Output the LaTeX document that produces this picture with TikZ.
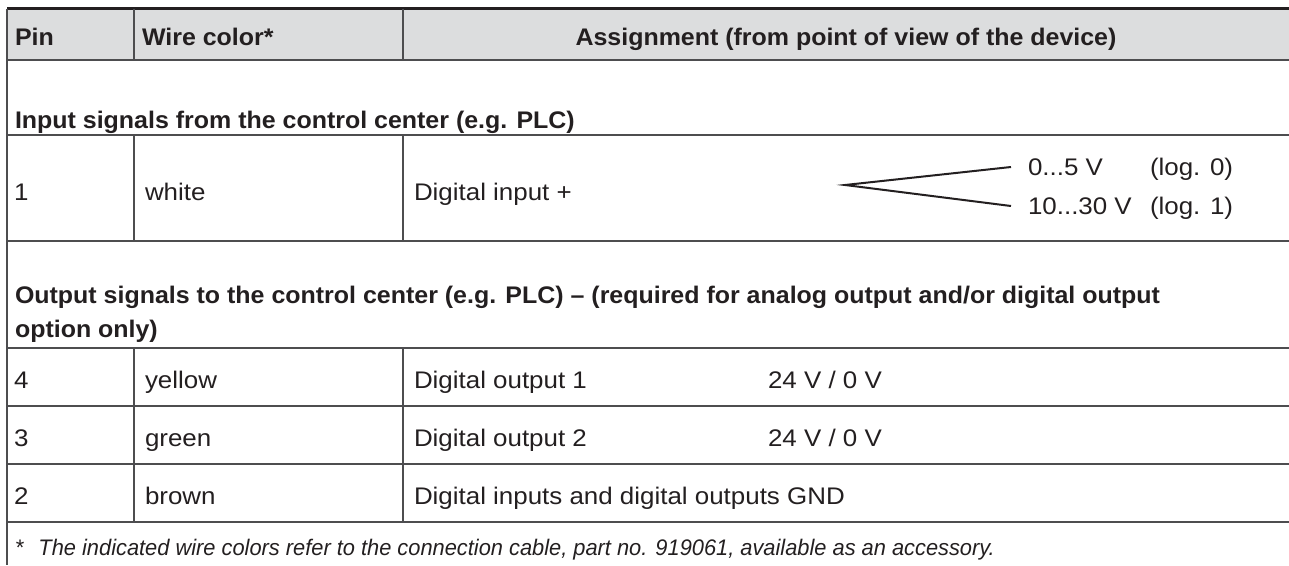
\documentclass[tikz,border=0pt]{standalone}
\usepackage{fontspec}
\setmainfont{Liberation Sans}[UprightFeatures={FakeStretch=1.08},BoldFeatures={FakeStretch=1.04}]
\newfontfamily\fnfont{Liberation Sans}[FakeStretch=0.97]
\definecolor{txt}{HTML}{231F20}
\definecolor{hdr}{HTML}{DCDDDE}
\definecolor{rule}{HTML}{4D4D4F}
\begin{document}
\begin{tikzpicture}[x=1pt,y=-1pt,
  every node/.style={inner sep=0pt,outer sep=0pt,text=txt,font=\fontsize{24}{28}\selectfont},
  cell/.style={anchor=base west},
  bcell/.style={anchor=base west,font=\fontsize{24}{28}\selectfont\bfseries},
  gridline/.style={draw=rule,line width=1.6pt},
  fork/.style={draw=txt,line width=2pt}]
\useasboundingbox (0,0) rectangle (1289,565);
% header background
\fill[hdr] (7,8.6) rectangle (1289,60);
% horizontal rules
\draw[draw=txt,line width=2.6pt] (7,8.6) -- (1289,8.6);
\draw[gridline] (7,60) -- (1289,60);
\draw[gridline] (7,135) -- (1289,135);
\draw[gridline] (7,241) -- (1289,241);
\draw[gridline] (7,348) -- (1289,348);
\draw[gridline] (7,406) -- (1289,406);
\draw[gridline] (7,464) -- (1289,464);
\draw[gridline] (7,522) -- (1289,522);
% vertical rules
\draw[gridline] (7,8.6) -- (7,565);
\draw[gridline] (134,8.6) -- (134,60);
\draw[gridline] (403,8.6) -- (403,60);
\draw[gridline] (134,135) -- (134,241);
\draw[gridline] (403,135) -- (403,241);
\draw[gridline] (134,348) -- (134,522);
\draw[gridline] (403,348) -- (403,522);
% header
\node[bcell] (hpin) at (15,45) {Pin};
\node[bcell] (hwire) at (142,45) {Wire color*};
\node[anchor=base,font=\fontsize{24}{28}\selectfont\bfseries] (hass) at (846,45) {Assignment (from point of view of the device)};
% section 1
\node[bcell] (sec1) at (15,128) {Input signals from the control center (e.g. PLC)};
% row 1
\node[cell] (p1) at (14,200) {1};
\node[cell] (w1) at (145,200) {white};
\node[cell] (a1) at (414,200) {Digital input +};
\coordinate (fv) at (845,185);
\coordinate (fu) at (1011,167);
\coordinate (fl) at (1011,206);
\draw[fork] (fu) -- (fv) -- (fl);
\node[cell] (v0) at (1028,175) {0...5 V};
\node[cell] (l0) at (1150,175) {(log. 0)};
\node[cell] (v1) at (1028,214) {10...30 V};
\node[cell] (l1) at (1150,214) {(log. 1)};
% section 2
\node[bcell] (sec2a) at (15,303) {Output signals to the control center (e.g. PLC) – (required for analog output and/or digital output};
\node[bcell] (sec2b) at (15,337) {option only)};
% row 4
\node[cell] (p4) at (14,388) {4};
\node[cell] (w4) at (145,388) {yellow};
\node[cell] (a4) at (414,388) {Digital output 1};
\node[cell] (v4) at (768,388) {24 V / 0 V};
% row 3
\node[cell] (p3) at (14,446) {3};
\node[cell] (w3) at (145,446) {green};
\node[cell] (a3) at (414,446) {Digital output 2};
\node[cell] (v3) at (768,446) {24 V / 0 V};
% row 2
\node[cell] (p2) at (14,504) {2};
\node[cell] (w2) at (145,504) {brown};
\node[cell] (a2) at (414,504) {Digital inputs and digital outputs GND};
% footnote
\node[cell,font=\fontsize{22.5}{28}\fnfont] (fn) at (16,555) {*\hspace{14pt}\itshape The indicated wire colors refer to the connection cable, part no. 919061, available as an accessory.};
\end{tikzpicture}
\end{document}
